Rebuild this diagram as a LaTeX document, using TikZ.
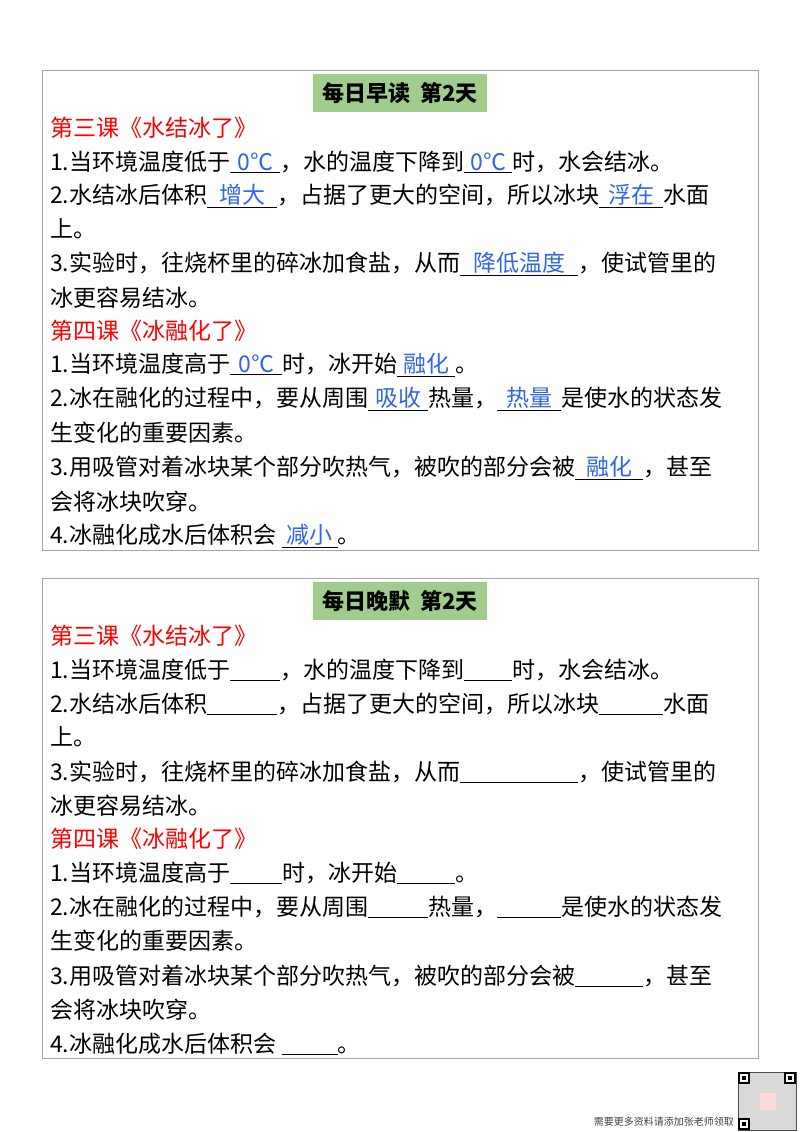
\documentclass[tikz,border=0pt]{standalone}
\usepackage{fontspec}
\setmainfont{Noto Sans CJK SC}
\definecolor{ans}{RGB}{50,100,230}
\definecolor{ttl}{RGB}{160,205,140}
\newcommand{\bl}[2]{\underline{\makebox[#1pt]{\color{ans}#2}}}
\tikzset{ln/.style={anchor=west,inner sep=0pt,font=\fontsize{23}{26}\selectfont},
 hd/.style={ln,text=red},
 frame/.style={draw=gray!70,line width=1.2pt},
 ttlbox/.style={fill=ttl,inner sep=0pt,minimum width=174pt,minimum height=38pt,font=\fontsize{22}{24}\selectfont\bfseries}}
\begin{document}
\begin{tikzpicture}[x=1pt,y=-1pt]
\useasboundingbox (0,0) rectangle (800,1132);
\foreach \off/\t/\a in {0/早读/1,508/晚默/0}{
\begin{scope}[yshift=-\off pt]
\node[frame,minimum width=716pt,minimum height=480pt,anchor=north west] (box\a) at (42,70) {};
\node[ttlbox] (t\a) at (400,93) {每日\t\ \ 第2天};
\ifnum\a=1
\def\A{0℃}\def\B{0℃}\def\C{增大}\def\D{浮在}\def\E{降低温度}\def\F{0℃}\def\G{融化}\def\H{吸收}\def\I{热量}\def\J{融化}\def\K{减小}
\else
\def\A{}\def\B{}\def\C{}\def\D{}\def\E{}\def\F{}\def\G{}\def\H{}\def\I{}\def\J{}\def\K{}
\fi
\node[hd] (h1) at (50,128) {第三课《水结冰了》};
\node[ln] (l1) at (50,162) {1.当环境温度低于\bl{50}{\A}，水的温度下降到\bl{48}{\B}时，水会结冰。};
\node[ln] (l2) at (50,196) {2.水结冰后体积\bl{70}{\C}，占据了更大的空间，所以冰块\bl{64}{\D}水面};
\node[ln] (l3) at (50,229) {上。};
\node[ln] (l4) at (50,264) {3.实验时，往烧杯里的碎冰加食盐，从而\bl{118}{\E}，使试管里的};
\node[ln] (l5) at (50,298) {冰更容易结冰。};
\node[hd] (h2) at (50,331) {第四课《冰融化了》};
\node[ln] (l6) at (50,365) {1.当环境温度高于\bl{52}{\F}时，冰开始\bl{58}{\G}。};
\node[ln] (l7) at (50,399) {2.冰在融化的过程中，要从周围\bl{60}{\H}热量，\bl{64}{\I}是使水的状态发};
\node[ln] (l8) at (50,433) {生变化的重要因素。};
\node[ln] (l9) at (50,468) {3.用吸管对着冰块某个部分吹热气，被吹的部分会被\bl{68}{\J}，甚至};
\node[ln] (l10) at (50,502) {会将冰块吹穿。};
\node[ln] (l11) at (50,536) {4.冰融化成水后体积会 \bl{56}{\K}。};
\end{scope}}
\node[anchor=east,inner sep=0pt,font=\fontsize{10}{12}\selectfont,text=black!75] (note) at (734,1122) {需要更多资料请添加张老师领取};
\node[draw=black!70,fill=black!15,minimum size=58pt,inner sep=0pt,anchor=north west] (qr) at (738,1072) {};
\foreach \x/\y in {738/1072,784/1072,738/1118}{
\fill[black] (\x,\y) rectangle ++(12,12);
\fill[white] (\x+2,\y+2) rectangle ++(8,8);
\fill[black] (\x+4,\y+4) rectangle ++(4,4);}
\fill[pink!60] (760,1093) rectangle (776,1110);
\end{tikzpicture}
\end{document}
